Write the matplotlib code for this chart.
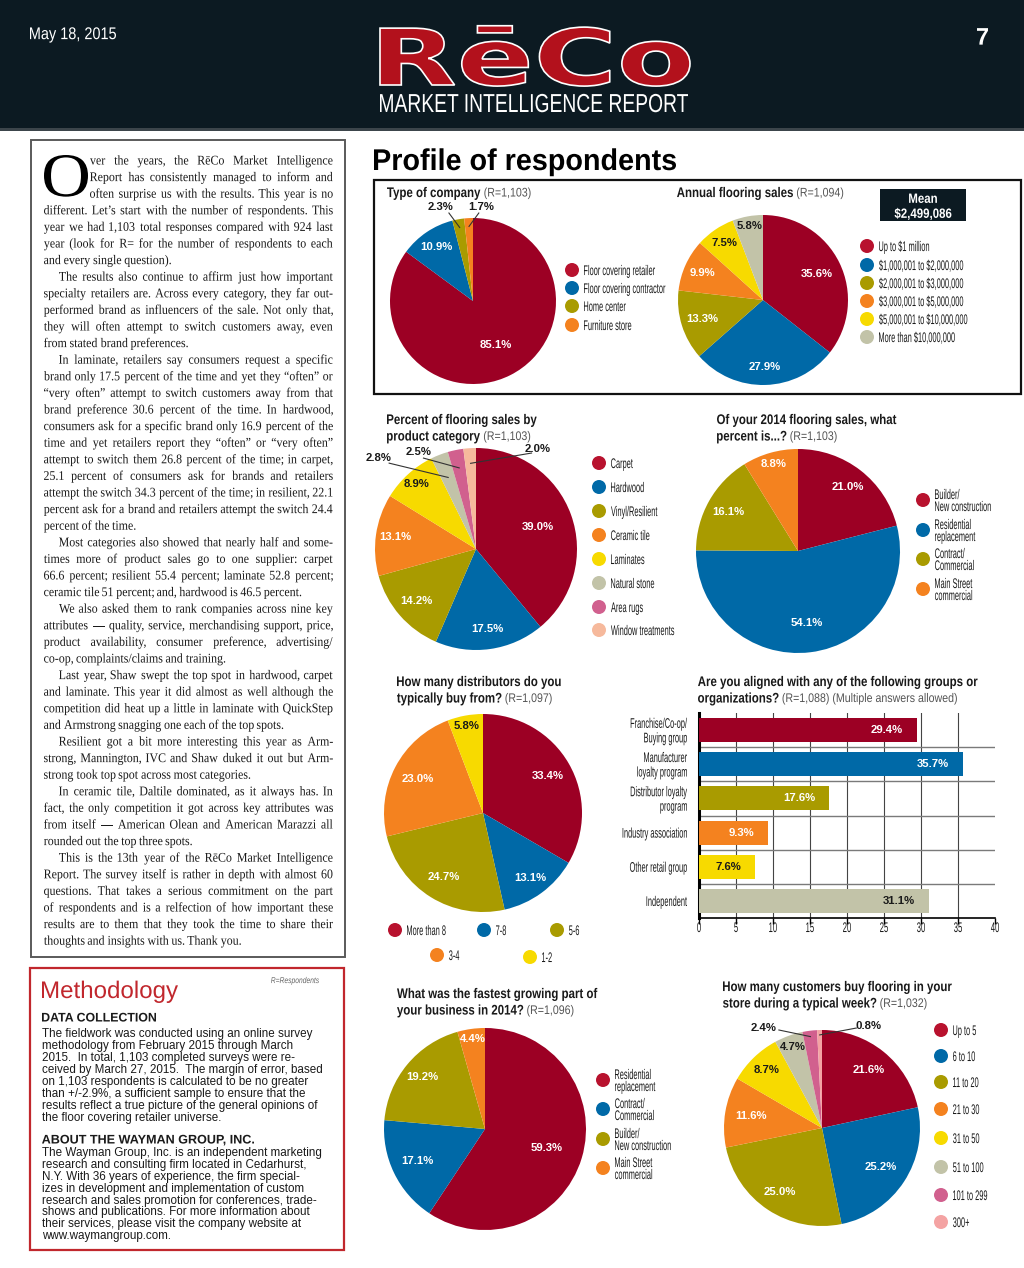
import numpy as np
import matplotlib
matplotlib.use('Agg')
import matplotlib.pyplot as plt
from matplotlib.textpath import TextPath
from matplotlib.font_manager import FontProperties
from matplotlib.patches import PathPatch, Rectangle, Circle
from matplotlib.transforms import Affine2D

plt.rcParams['text.parse_math'] = False

W, H = 1024, 1268

# ---------------- data ----------------
company_labels = ['Floor covering retailer', 'Floor covering contractor', 'Home center', 'Furniture store']
company_vals = [85.1, 10.9, 2.3, 1.7]

sales_labels = ['Up to $1 million', '$1,000,001 to $2,000,000', '$2,000,001 to $3,000,000',
                '$3,000,001 to $5,000,000', '$5,000,001 to $10,000,000', 'More than $10,000,000']
sales_vals = [35.6, 27.9, 13.3, 9.9, 7.5, 5.8]
sales_mean = '$2,499,086'

product_labels = ['Carpet', 'Hardwood', 'Vinyl/Resilient', 'Ceramic tile', 'Laminates',
                  'Natural stone', 'Area rugs', 'Window treatments']
product_vals = [39.0, 17.5, 14.2, 13.1, 8.9, 2.8, 2.5, 2.0]

segment_labels = ['Builder/\nNew construction', 'Residential\nreplacement', 'Contract/\nCommercial',
                  'Main Street\ncommercial']
segment_vals = [21.0, 54.1, 16.1, 8.8]

dist_labels = ['More than 8', '7-8', '5-6', '3-4', '1-2']
dist_vals = [33.4, 13.1, 24.7, 23.0, 5.8]

group_labels = ['Franchise/Co-op/\nBuying group', 'Manufacturer\nloyalty program',
                'Distributor loyalty\nprogram', 'Industry association', 'Other retail group', 'Independent']
group_vals = [29.4, 35.7, 17.6, 9.3, 7.6, 31.1]
group_ticks = [0, 5, 10, 15, 20, 25, 30, 35, 40]

growth_labels = ['Residential\nreplacement', 'Contract/\nCommercial', 'Builder/\nNew construction',
                 'Main Street\ncommercial']
growth_vals = [59.3, 17.1, 19.2, 4.4]

cust_labels = ['Up to 5', '6 to 10', '11 to 20', '21 to 30', '31 to 50', '51 to 100', '101 to 299', '300+']
cust_vals = [21.6, 25.2, 25.0, 11.6, 8.7, 4.7, 2.4, 0.8]

article = [
    ["ver the years, the RēCo Market Intelligence",
     "Report has consistently managed to inform and",
     "often surprise us with the results. This year is no",
     "different. Let’s start with the number of respondents. This",
     "year we had 1,103 total responses compared with 924 last",
     "year (look for R= for the number of respondents to each",
     "and every single question)."],
    ["The results also continue to affirm just how important",
     "specialty retailers are. Across every category, they far out-",
     "performed brand as influencers of the sale. Not only that,",
     "they will often attempt to switch customers away, even",
     "from stated brand preferences."],
    ["In laminate, retailers say consumers request a specific",
     "brand only 17.5 percent of the time and yet they “often” or",
     "“very often” attempt to switch customers away from that",
     "brand preference 30.6 percent of the time. In hardwood,",
     "consumers ask for a specific brand only 16.9 percent of the",
     "time and yet retailers report they “often” or “very often”",
     "attempt to switch them 26.8 percent of the time; in carpet,",
     "25.1 percent of consumers ask for brands and retailers",
     "attempt the switch 34.3 percent of the time; in resilient, 22.1",
     "percent ask for a brand and retailers attempt the switch 24.4",
     "percent of the time."],
    ["Most categories also showed that nearly half and some-",
     "times more of product sales go to one supplier: carpet",
     "66.6 percent; resilient 55.4 percent; laminate 52.8 percent;",
     "ceramic tile 51 percent; and, hardwood is 46.5 percent."],
    ["We also asked them to rank companies across nine key",
     "attributes — quality, service, merchandising support, price,",
     "product availability, consumer preference, advertising/",
     "co-op, complaints/claims and training."],
    ["Last year, Shaw swept the top spot in hardwood, carpet",
     "and laminate. This year it did almost as well although the",
     "competition did heat up a little in laminate with QuickStep",
     "and Armstrong snagging one each of the top spots."],
    ["Resilient got a bit more interesting this year as Arm-",
     "strong, Mannington, IVC and Shaw duked it out but Arm-",
     "strong took top spot across most categories."],
    ["In ceramic tile, Daltile dominated, as it always has. In",
     "fact, the only competition it got across key attributes was",
     "from itself — American Olean and American Marazzi all",
     "rounded out the top three spots."],
    ["This is the 13th year of the RēCo Market Intelligence",
     "Report. The survey itself is rather in depth with almost 60",
     "questions. That takes a serious commitment on the part",
     "of respondents and is a relfection of how important these",
     "results are to them that they took the time to share their",
     "thoughts and insights with us. Thank you."],
]

method_data = ["The fieldwork was conducted using an online survey",
               "methodology from February 2015 through March",
               "2015.  In total, 1,103 completed surveys were re-",
               "ceived by March 27, 2015.  The margin of error, based",
               "on 1,103 respondents is calculated to be no greater",
               "than +/-2.9%, a sufficient sample to ensure that the",
               "results reflect a true picture of the general opinions of",
               "the floor covering retailer universe."]
method_about = ["The Wayman Group, Inc. is an independent marketing",
                "research and consulting firm located in Cedarhurst,",
                "N.Y. With 36 years of experience, the firm special-",
                "izes in development and implementation of custom",
                "research and sales promotion for conferences, trade-",
                "shows and publications. For more information about",
                "their services, please visit the company website at",
                "www.waymangroup.com."]

# ---------------- style ----------------
RED = '#9c0024'
LRED = '#b8122e'
BLUE = '#0069a7'
OLIVE = '#a99b00'
ORANGE = '#f4821f'
YELLOW = '#f7da00'
STONE = '#c2c3a8'
PINK = '#d1608e'
PEACH = '#f6b99c'
LPINK = '#f4a3a3'
NAVY = '#0c1a22'
DARK = '#1a1a1a'
SANS = 'Liberation Sans'
SERIF = 'Liberation Serif'

fig = plt.figure(figsize=(W / 100, H / 100), dpi=100)
page = fig.add_axes([0, 0, 1, 1])
page.set_xlim(0, W)
page.set_ylim(H, 0)
page.axis('off')


def ptext(s, x, y, h, sx=1.0, color=DARK, family=SANS, weight='normal', style='normal',
          ha='left', va='center', fitw=None, ec='none', lw=0, z=5):
    fp = FontProperties(family=family, weight=weight, style=style)
    tp = TextPath((0, 0), s, size=1, prop=fp)
    ext = tp.get_extents()
    if fitw is not None:
        sx = fitw / ((ext.x1 - ext.x0) * h)
    w = (ext.x1 - ext.x0) * sx * h
    x0 = x if ha == 'left' else (x - w / 2 if ha == 'center' else x - w)
    if va == 'center':
        base = y + 0.36 * h
    elif va == 'top':
        base = y + ext.y1 * h
    else:
        base = y
    tr = Affine2D().translate(-ext.x0, 0).scale(sx * h, -h).translate(x0, base) + page.transData
    page.add_patch(PathPatch(tp, transform=tr, facecolor=color, edgecolor=ec, lw=lw, zorder=z))
    return w


def legend(x, ys, labels, colors, h=14, sx=0.53, gap=12, lsp=12):
    for y, lab, c in zip(ys, labels, colors):
        page.add_patch(Circle((x, y), 7, color=c, lw=0, zorder=4))
        lines = lab.split('\n')
        n = len(lines)
        for j, ln in enumerate(lines):
            ptext(ln, x + gap, y + (j - (n - 1) / 2) * lsp, h, sx=sx, color=DARK)


def title(x, y, lines, note, lsp=16.5):
    w = 0
    for j, ln in enumerate(lines):
        w = ptext(ln, x, y + j * lsp, 14, sx=0.82, weight='bold', color=DARK)
    ptext(note, x + w + 4, y + (len(lines) - 1) * lsp, 12.5, sx=0.85, color='#555555')


def pie(vals, colors, cx, cy, r, dists, leaders=None):
    ax = fig.add_axes([(cx - r) / W, 1 - (cy + r) / H, 2 * r / W, 2 * r / H])
    wedges, _ = ax.pie(vals, colors=colors, startangle=90, counterclock=False, radius=1,
                       wedgeprops=dict(linewidth=0))
    ax.set_xlim(-1, 1)
    ax.set_ylim(-1, 1)
    ax.axis('off')
    for w, v, d, c in zip(wedges, vals, dists, colors):
        if d is None:
            continue
        th = np.deg2rad((w.theta1 + w.theta2) / 2)
        tc = DARK if c in (YELLOW, STONE) else 'white'
        ax.text(d * np.cos(th), d * np.sin(th), f'{v:.1f}%', ha='center', va='center',
                fontsize=8.2, fontweight='bold', family=SANS, color=tc)
    for i, (txy, sxy, rend) in (leaders or {}).items():
        w = wedges[i]
        th = np.deg2rad((w.theta1 + w.theta2) / 2)
        ax.plot([sxy[0], rend * np.cos(th)], [sxy[1], rend * np.sin(th)], color='#333333',
                lw=0.8, clip_on=False)
        ax.text(txy[0], txy[1], f'{vals[i]:.1f}%', ha='center', va='center', fontsize=8.2,
                fontweight='bold', family=SANS, color=DARK)
    return ax


# ---------------- header ----------------
page.add_patch(Rectangle((0, 0), W, 128, color=NAVY, lw=0, zorder=1))
page.add_patch(Rectangle((0, 128), W, 3, color='#3c454b', lw=0, zorder=1))
ptext('May 18, 2015', 30, 33, 17, fitw=86, color='white')
ptext('7', 977, 36, 24, fitw=11, weight='bold', color='white')
ptext('RēCo', 380, 85, 78, fitw=310, family='DejaVu Sans', weight='bold', va='baseline',
      color='#b3111c', ec='white', lw=1.2)
ptext('MARKET INTELLIGENCE REPORT', 380, 112, 26, fitw=308, va='baseline', color='white')

# ---------------- article column ----------------
page.add_patch(Rectangle((31, 140), 314, 817, fill=False, ec='#5a5a5a', lw=1.4, zorder=2))
ptext('O', 44, 155, 62, fitw=44, family=SERIF, va='top', color='black')

fp_serif = FontProperties(family=SERIF)
SQ = 0.9


def tw(s):
    return TextPath((0, 0), s, size=1, prop=fp_serif).get_extents().x1 * SQ


LEFT, RIGHT, TOP_BASE, LSP = 44, 333, 164.5, 16.6
rows = []
k = 0
for p, para in enumerate(article):
    for j, ln in enumerate(para):
        if p == 0 and j < 3:
            start = 90
        elif p > 0 and j == 0:
            start = 59
        else:
            start = LEFT
        rows.append((ln, start, j == len(para) - 1, TOP_BASE + k * LSP))
        k += 1
size_px = min((RIGHT - st) / tw(ln) for ln, st, last, _ in rows) * 0.995
space = tw('a b') - tw('ab')
for ln, st, last, yb in rows:
    words = ln.split()
    ws = [tw(wd) * size_px for wd in words]
    if last:
        gap = space * size_px
    else:
        gap = (RIGHT - st - sum(ws)) / (len(words) - 1)
    x = st
    for wd, wdw in zip(words, ws):
        ptext(wd, x, yb, size_px, sx=SQ, family=SERIF, va='baseline', color='#1a1a1a')
        x += wdw + gap

# ---------------- methodology ----------------
page.add_patch(Rectangle((30, 968), 314, 282, fill=False, ec='#c1272d', lw=1.6, zorder=2))
ptext('Methodology', 42, 998, 24, fitw=136, va='baseline', color='#c1272d')
ptext('R=Respondents', 271, 980, 8.5, fitw=48, style='italic', color='#666666')
ptext('DATA COLLECTION', 42, 1017, 12.5, fitw=114, weight='bold', color=DARK)
for i, ln in enumerate(method_data):
    page.text(42, 1037 + i * 12, ln, fontsize=8.4, family=SANS, va='baseline', color=DARK)
ptext('ABOUT THE WAYMAN GROUP, INC.', 42, 1139, 12.5, fitw=212, weight='bold', color=DARK)
for i, ln in enumerate(method_about):
    page.text(42, 1156 + i * 11.9, ln, fontsize=8.4, family=SANS, va='baseline', color=DARK)

# ---------------- charts ----------------
ptext('Profile of respondents', 374, 170, 30, fitw=302, weight='bold', va='baseline', color='black')
page.add_patch(Rectangle((374, 180), 647, 214, fill=False, ec='#111111', lw=1.6, zorder=2))

# type of company
title(387, 192, ['Type of company'], '(R=1,103)')
c1 = [RED, BLUE, OLIVE, ORANGE]
pie(company_vals, c1, 473, 301, 83, [0.6, 0.79, None, None],
    {2: ((-0.39, 1.13), (-0.29, 1.06), 0.9), 3: ((0.1, 1.13), (0.07, 1.06), 0.9)})
legend(572, [270, 288, 306, 325], company_labels, [LRED, BLUE, OLIVE, ORANGE])

# annual flooring sales
title(677, 192, ['Annual flooring sales'], '(R=1,094)')
c2 = [RED, BLUE, OLIVE, ORANGE, YELLOW, STONE]
pie(sales_vals, c2, 763, 300, 85, [0.7, 0.79, 0.75, 0.78, 0.81, 0.88])
legend(867, [246, 265, 283, 301, 319, 337], sales_labels, [LRED, BLUE, OLIVE, ORANGE, YELLOW, STONE])
page.add_patch(Rectangle((880, 189), 86, 32, color=NAVY, lw=0, zorder=3))
ptext('Mean', 923, 198, 13.5, sx=0.85, weight='bold', ha='center', color='white')
ptext(sales_mean, 923, 213, 13.5, sx=0.85, weight='bold', ha='center', color='white')

# product category
title(387, 419, ['Percent of flooring sales by', 'product category'], '(R=1,103)')
c3 = [RED, BLUE, OLIVE, ORANGE, YELLOW, STONE, PINK, PEACH]
pie(product_vals, c3, 476, 549, 101, [0.65, 0.8, 0.78, 0.81, 0.87, None, None, None],
    {5: ((-0.96, 0.90), (-0.86, 0.85), 0.76),
     6: ((-0.57, 0.96), (-0.52, 0.90), 0.82),
     7: ((0.61, 0.99), (0.55, 0.95), 0.85)})
legend(599, [463, 487, 511, 535, 559, 583, 607, 630], product_labels,
       [LRED, BLUE, OLIVE, ORANGE, YELLOW, STONE, PINK, PEACH])

# 2014 flooring sales segments
title(717, 419, ['Of your 2014 flooring sales, what', 'percent is...?'], '(R=1,103)')
c4 = [RED, BLUE, OLIVE, ORANGE]
pie(segment_vals, c4, 798, 551, 102, [0.8, 0.71, 0.78, 0.89])
legend(923, [500, 530, 559, 589], segment_labels, [LRED, BLUE, OLIVE, ORANGE])

# distributors
title(397, 681, ['How many distributors do you', 'typically buy from?'], '(R=1,097)')
c5 = [RED, BLUE, OLIVE, ORANGE, YELLOW]
pie(dist_vals, c5, 483, 813, 99, [0.75, 0.81, 0.76, 0.74, 0.89])
for (lx, ly), lab, c in zip([(395, 930), (484, 930), (557, 930), (437, 955), (530, 957)],
                            dist_labels, [LRED, BLUE, OLIVE, ORANGE, YELLOW]):
    legend(lx, [ly], [lab], [c])

# aligned groups (bar chart)
title(698, 681, ['Are you aligned with any of the following groups or', 'organizations?'],
      '(R=1,088) (Multiple answers allowed)')
bx = fig.add_axes([699 / W, 1 - 918 / H, 296 / W, 205 / H])
yy = np.arange(len(group_vals))
gcol = [RED, BLUE, OLIVE, ORANGE, YELLOW, STONE]
bx.barh(yy, group_vals, height=0.7, color=gcol, zorder=3)
bx.set_xlim(0, 40)
bx.set_ylim(len(group_vals) - 0.5, -0.5)
bx.set_xticks(group_ticks)
bx.set_xticklabels([])
bx.set_yticks([])
for t in group_ticks[1:-1]:
    bx.axvline(t, color='#444444', lw=0.8, zorder=1)
for b in yy[:-1] + 0.5:
    bx.axhline(b, color='#7a7a7a', lw=1.0, zorder=1)
for s in ['top', 'right']:
    bx.spines[s].set_visible(False)
bx.spines['left'].set_linewidth(2.2)
bx.spines['bottom'].set_linewidth(1.2)
bx.tick_params(axis='x', length=4, width=1, color='black')
bx.patch.set_alpha(0)
for i, v in enumerate(group_vals):
    tc = DARK if gcol[i] in (YELLOW, STONE) else 'white'
    bx.text(v - 1.9, i, f'{v}%', ha='right', va='center', fontsize=8.2, fontweight='bold',
            family=SANS, color=tc, zorder=4)
for i, lab in enumerate(group_labels):
    px, py = bx.transData.transform((0, i))
    cy = H - py
    lines = lab.split('\n')
    for j, ln in enumerate(lines):
        ptext(ln, 687, cy + (j - (len(lines) - 1) / 2) * 14.5, 14, sx=0.53, ha='right', color=DARK)
for t in group_ticks:
    px, py = bx.transData.transform((t, 0))
    ptext(str(t), px, 927, 14, sx=0.55, ha='center', color=DARK)

# fastest growing
title(397, 993, ['What was the fastest growing part of', 'your business in 2014?'], '(R=1,096)')
c7 = [RED, BLUE, OLIVE, ORANGE]
pie(growth_vals, c7, 485, 1129, 101, [0.64, 0.74, 0.8, 0.9])
legend(603, [1080, 1109, 1139, 1168], growth_labels, [LRED, BLUE, OLIVE, ORANGE])

# customers per week
title(723, 986, ['How many customers buy flooring in your', 'store during a typical week?'], '(R=1,032)')
c8 = [RED, BLUE, OLIVE, ORANGE, YELLOW, STONE, PINK, LPINK]
pie(cust_vals, c8, 822, 1128, 98, [0.76, 0.72, 0.78, 0.73, 0.82, 0.88, None, None],
    {6: ((-0.60, 1.02), (-0.44, 1.00), 0.94), 7: ((0.47, 1.04), (0.35, 1.02), 0.95)})
legend(941, [1030, 1056, 1082, 1109, 1138, 1167, 1195, 1222], cust_labels,
       [LRED, BLUE, OLIVE, ORANGE, YELLOW, STONE, PINK, LPINK])

fig.savefig('out.png', dpi=100)
